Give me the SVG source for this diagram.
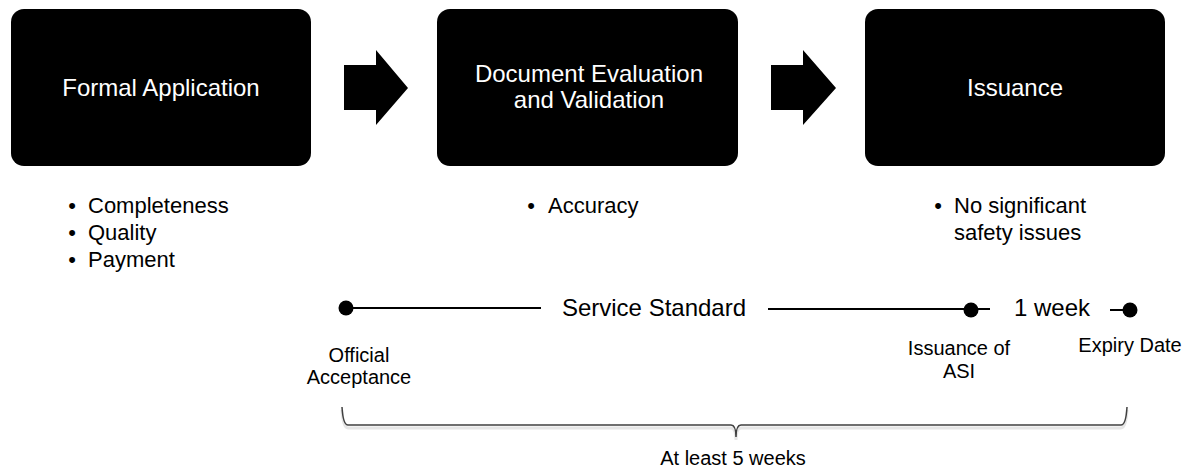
<svg xmlns="http://www.w3.org/2000/svg" width="1191" height="469" viewBox="0 0 1191 469">
<style>
  text { font-family: "Liberation Sans", Arial, sans-serif; fill: #000; }
  .box { fill: #000; }
  .boxtxt { fill: #fff; font-size: 24px; text-anchor: middle; }
  .bul { font-size: 22px; }
  .lbl { font-size: 20px; text-anchor: middle; }
  .big { font-size: 24px; }
  .tl { stroke: #000; stroke-width: 2; fill: none; }
  .dot { fill: #000; }
  .arrow { fill: #000; }
</style>
<rect width="1191" height="469" fill="#fff"/>

<g id="node-formal-application">
  <rect class="box" x="11" y="9" width="300" height="157" rx="13" ry="13"/>
  <text class="boxtxt" x="161" y="96">Formal Application</text>
</g>
<g id="node-document-evaluation">
  <rect class="box" x="437" y="9" width="301" height="157" rx="13" ry="13"/>
  <text class="boxtxt" x="589" y="82">Document Evaluation</text>
  <text class="boxtxt" x="589" y="108">and Validation</text>
</g>
<g id="node-issuance">
  <rect class="box" x="865" y="9" width="300" height="157" rx="13" ry="13"/>
  <text class="boxtxt" x="1015" y="96">Issuance</text>
</g>

<g id="connectors">
  <polygon class="arrow" points="344,65 376,65 376,50 408,88 376,125 376,110 344,110"/>
  <polygon class="arrow" points="771,65 803,65 803,50 836,88 803,125 803,110 771,110"/>
</g>

<g id="bullets-formal">
  <text class="bul" x="72" y="213" text-anchor="middle">•</text>
  <text class="bul" x="88" y="213">Completeness</text>
  <text class="bul" x="72" y="240" text-anchor="middle">•</text>
  <text class="bul" x="88" y="240">Quality</text>
  <text class="bul" x="72" y="267" text-anchor="middle">•</text>
  <text class="bul" x="88" y="267">Payment</text>
</g>
<g id="bullets-document">
  <text class="bul" x="531" y="213" text-anchor="middle">•</text>
  <text class="bul" x="548" y="213">Accuracy</text>
</g>
<g id="bullets-issuance">
  <text class="bul" x="938" y="213" text-anchor="middle">•</text>
  <text class="bul" x="954" y="213">No significant</text>
  <text class="bul" x="954" y="240">safety issues</text>
</g>

<g id="timeline">
  <line class="tl" x1="346" y1="308" x2="541" y2="308"/>
  <circle class="dot" cx="346" cy="308" r="7.5"/>
  <text class="big" x="654" y="316" text-anchor="middle">Service Standard</text>
  <line class="tl" x1="768" y1="309" x2="990" y2="309"/>
  <circle class="dot" cx="971" cy="310" r="7.5"/>
  <text class="big" x="1052" y="316" text-anchor="middle">1 week</text>
  <line class="tl" x1="1110" y1="310" x2="1130" y2="310"/>
  <circle class="dot" cx="1130" cy="310" r="7.5"/>
</g>

<g id="labels">
  <text class="lbl" x="359" y="362">Official</text>
  <text class="lbl" x="359" y="384">Acceptance</text>
  <text class="lbl" x="959" y="355">Issuance of</text>
  <text class="lbl" x="959" y="378">ASI</text>
  <text class="lbl" x="1130" y="352">Expiry Date</text>
</g>

<g id="brace">
  <path d="M 342 410 Q 343 428 348 428 L 731 428 Q 736 428 736 440 Q 736 428 741 428 L 1121 428 Q 1126 428 1127 410" fill="none" stroke="#e6e6e6" stroke-width="3"/>
  <path d="M 342 407 Q 343 425 348 425 L 731 425 Q 736 425 736 437 Q 736 425 741 425 L 1121 425 Q 1126 425 1127 407" fill="none" stroke="#404040" stroke-width="1.5"/>
  <text class="lbl" x="733" y="465">At least 5 weeks</text>
</g>
</svg>
